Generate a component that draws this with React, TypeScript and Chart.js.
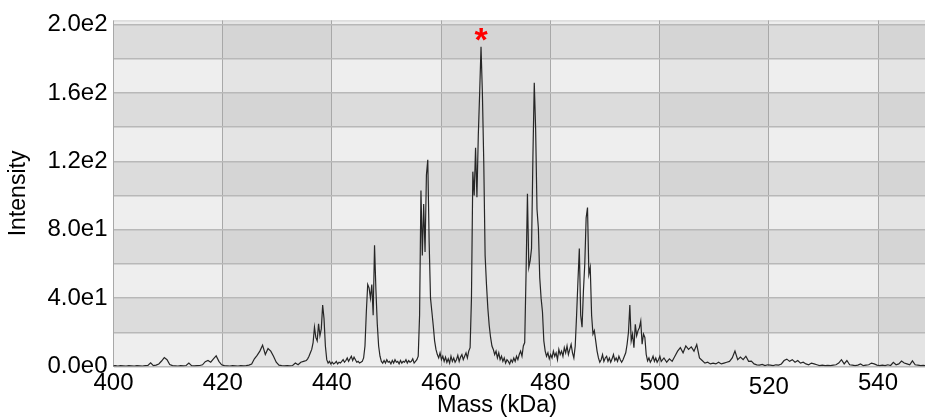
import React, { useEffect, useRef } from 'react';
import { Chart, registerables } from 'chart.js';

Chart.register(...registerables);

// ---- axis settings ----
const xMin = 400;
const xMax = 548.6;
const yMin = 0;
const yMax = 202.5;
const xTickValues = [400, 420, 440, 460, 480, 500, 520, 540];
const yGridValues = [0, 20, 40, 60, 80, 100, 120, 140, 160, 180, 200];
const yLabelValues = [0, 40, 80, 120, 160, 200];

// ---- spectrum (intensity) ----
// 399.8 – 434.8 kDa, every 0.5 kDa
const startA = 399.8;
const stepA = 0.5;
const intensityA = [
  0.4,
  0.5, 0.3, 0.5, 0.4, 0.3, 0.5, 0.4, 0.3, 0.5, 0.4,
  0.3, 0.5, 0.6, 2.2, 0.5, 0.8, 1.5, 3.2, 5.2, 4.0,
  1.2, 0.5, 0.4, 0.3, 0.5, 0.4, 0.6, 2.0, 0.5, 0.4,
  0.5, 0.6, 1.0, 2.8, 3.5, 2.5, 4.5, 6.2, 3.0, 1.0,
  0.5, 0.4, 0.3, 0.5, 0.4, 0.3, 0.5, 0.4, 0.5, 0.8,
  1.5, 4.5, 6.5, 9.0, 12.5, 7.0, 10.5, 9.0, 6.0, 2.5,
  0.8, 0.5, 0.4, 0.5, 0.4, 0.6, 2.0, 1.0, 2.5, 3.0,
];

// 435.30 – 500.05 kDa, every 0.25 kDa
const startB = 435.3;
const stepB = 0.25;
const intensityB = [
  3.5, 4.5, 6.0, 8.0, // 435
  10.0, 14.0, 23.0, 17.0, // 436
  15.0, 25.0, 18.0, 22.0, // 437
  36.0, 28.0, 12.0, 4.0, // 438
  2.0, 3.0, 1.5, 2.5, // 439
  1.5, 2.0, 3.0, 1.5, // 440
  2.5, 2.0, 3.0, 4.0, // 441
  2.5, 3.5, 5.0, 3.0, // 442
  4.5, 6.0, 3.5, 5.5, // 443
  4.0, 2.5, 3.0, 2.0, // 444
  2.5, 3.0, 5.0, 12.0, // 445
  32.0, 48.0, 46.0, 40.0, // 446
  48.0, 30.0, 71.0, 45.0, // 447
  25.0, 12.0, 6.0, 3.0, // 448
  2.0, 3.5, 2.0, 4.0, // 449
  2.5, 3.0, 1.5, 3.5, // 450
  2.0, 4.0, 2.5, 3.0, // 451
  1.5, 3.5, 2.0, 3.0, // 452
  2.5, 4.0, 2.0, 3.5, // 453
  2.5, 3.0, 4.5, 2.0, // 454
  3.0, 4.0, 6.0, 30.0, // 455
  103.0, 65.0, 95.0, 67.0, // 456
  112.0, 121.0, 73.0, 40.0, // 457
  32.0, 24.0, 15.0, 10.0, // 458
  7.0, 5.0, 8.0, 4.0, // 459
  6.0, 3.0, 5.5, 2.5, // 460
  4.5, 2.0, 6.0, 3.0, // 461
  5.0, 2.5, 4.0, 6.5, // 462
  3.0, 5.5, 7.0, 4.0, // 463
  6.0, 8.0, 5.0, 9.0, // 464
  11.0, 40.0, 114.0, 100.0, // 465
  128.0, 99.0, 135.0, 160.0, // 466
  187.0, 160.0, 120.0, 65.0, // 467
  48.0, 34.0, 24.0, 17.0, // 468
  12.0, 10.0, 7.0, 9.0, // 469
  5.0, 8.0, 4.0, 6.0, // 470
  3.0, 5.0, 2.0, 4.0, // 471
  3.0, 1.5, 4.0, 2.5, // 472
  5.0, 3.0, 6.0, 4.0, // 473
  7.0, 9.0, 6.0, 12.0, // 474
  14.0, 55.0, 101.0, 58.0, // 475
  62.0, 69.0, 122.0, 166.0, // 476
  139.0, 92.0, 81.0, 52.0, // 477
  40.0, 32.0, 15.0, 9.0, // 478
  6.0, 8.0, 4.5, 7.0, // 479
  5.0, 9.0, 6.0, 8.0, // 480
  4.0, 10.0, 7.0, 9.0, // 481
  6.0, 11.0, 8.0, 12.0, // 482
  7.0, 10.0, 13.0, 8.0, // 483
  5.0, 12.0, 30.0, 50.0, // 484
  69.0, 30.0, 23.0, 44.0, // 485
  60.0, 87.0, 93.0, 54.0, // 486
  58.0, 30.0, 19.0, 21.0, // 487
  15.0, 9.0, 5.0, 2.5, // 488
  4.0, 7.0, 3.0, 5.0, // 489
  6.0, 3.0, 5.0, 2.5, // 490
  4.5, 7.0, 3.5, 5.0, // 491
  3.0, 6.0, 4.0, 2.5, // 492
  4.0, 6.0, 8.0, 13.0, // 493
  20.0, 36.0, 15.0, 19.0, // 494
  11.0, 24.7, 18.0, 21.0, // 495
  22.7, 26.6, 13.0, 19.0, // 496
  17.0, 7.0, 3.3, 5.0, // 497
  2.5, 4.0, 6.0, 3.0, // 498
  5.0, 2.5, 4.0, 6.0, // 499
];

// 500.3 – 548.8 kDa, every 0.5 kDa
const startC = 500.3;
const stepC = 0.5;
const intensityC = [
  3.0, 5.0, 2.5, 4.5, 3.0, 6.0, 9.0, 11.0, 8.0, 12.0,
  10.0, 11.5, 9.0, 12.8, 5.0, 3.5, 2.0, 2.5, 1.5, 2.0,
  1.5, 2.5, 1.5, 2.0, 2.5, 3.0, 5.0, 9.0, 4.0, 5.5,
  4.0, 6.0, 3.0, 3.2, 1.5, 1.0, 0.8, 1.2, 0.5, 1.0,
  0.8, 0.5, 1.0, 0.8, 1.5, 3.5, 4.3, 3.0, 4.0, 2.5,
  3.5, 2.0, 2.5, 1.5, 1.0, 2.0, 1.5, 1.0, 0.5, 0.8,
  0.5, 0.6, 0.5, 0.8, 1.0, 2.0, 4.0, 1.5, 3.5, 1.0,
  0.8, 0.5, 0.8, 1.5, 0.5, 0.8, 1.0, 2.0, 1.5, 0.8,
  0.5, 0.8, 0.5, 1.0, 0.6, 2.4, 1.0, 1.5, 3.2, 2.0,
  1.5, 1.0, 3.3, 1.0, 0.8, 0.5, 0.6, 0.5,
];

// marked peak
const markedMass = 467.3;
const markedLabel = '*';

const FONT = '"Liberation Sans", Arial, Helvetica, sans-serif';

const segments = [
  { start: startA, step: stepA, values: intensityA },
  { start: startB, step: stepB, values: intensityB },
  { start: startC, step: stepC, values: intensityC },
];

const points = segments.flatMap((s) =>
  s.values.map((v, i) => ({ x: +(s.start + i * s.step).toFixed(3), y: v }))
);

const fmtExp = (v: number) => v.toExponential(1).replace('e+', 'e');

const bandColors = {
  lightLight: '#eeeeee',
  lightDark: '#dcdcdc',
  darkLight: '#e4e4e4',
  darkDark: '#d5d5d5',
};

const backgroundPlugin = {
  id: 'bands',
  beforeDraw(chart: any) {
    const { ctx, chartArea, scales } = chart;
    const xs = scales.x;
    const ys = scales.y;
    const xEdges = [xMin, ...xTickValues.filter((v) => v > xMin && v < xMax), xMax];
    const yEdges = [yMin, ...yGridValues.filter((v) => v > yMin && v < yMax), yMax];
    ctx.save();
    for (let i = 0; i < xEdges.length - 1; i++) {
      const colDark = Math.floor((xEdges[i] - xTickValues[0]) / 20) % 2 === 1;
      const x0 = xs.getPixelForValue(xEdges[i]);
      const x1 = xs.getPixelForValue(xEdges[i + 1]);
      for (let j = 0; j < yEdges.length - 1; j++) {
        const rowDark = Math.floor((yEdges[j] - yMin) / 20) % 2 === 1;
        const y0 = ys.getPixelForValue(yEdges[j]);
        const y1 = ys.getPixelForValue(yEdges[j + 1]);
        ctx.fillStyle = colDark
          ? rowDark
            ? bandColors.darkDark
            : bandColors.darkLight
          : rowDark
          ? bandColors.lightDark
          : bandColors.lightLight;
        ctx.fillRect(x0, y1, x1 - x0, y0 - y1);
      }
    }
    ctx.fillStyle = '#d0d0d0';
    ctx.fillRect(chartArea.left, chartArea.top, chartArea.right - chartArea.left, 1);
    ctx.restore();
  },
  afterDraw(chart: any) {
    const { ctx, scales } = chart;
    const xs = scales.x;
    const ys = scales.y;
    ctx.save();
    ctx.fillStyle = '#000';
    ctx.font = `24px ${FONT}`;
    ctx.textAlign = 'center';
    ctx.textBaseline = 'alphabetic';
    xTickValues.forEach((v) => {
      const drop = v === 520 ? 4 : 0;
      ctx.fillText(String(v), xs.getPixelForValue(v), 390 + drop);
    });
    ctx.font = `23.5px ${FONT}`;
    ctx.fillText('Mass (kDa)', 497, 411.5);
    const peak = Math.max(...points.filter((p) => Math.abs(p.x - markedMass) < 0.5).map((p) => p.y));
    ctx.font = `bold 34px ${FONT}`;
    ctx.fillStyle = '#ff0000';
    const m = ctx.measureText(markedLabel);
    const cx = xs.getPixelForValue(markedMass);
    const cy = ys.getPixelForValue(peak) - 12;
    const a = m.actualBoundingBoxAscent;
    const d = m.actualBoundingBoxDescent;
    ctx.fillText(markedLabel, cx, cy + (a - d) / 2);
    ctx.restore();
  },
};

export default function App() {
  const ref = useRef<HTMLCanvasElement>(null);

  useEffect(() => {
    document.body.style.margin = '0';
    const canvas = ref.current!;
    const chart = new Chart(canvas, {
      type: 'line',
      data: {
        datasets: [
          {
            data: points,
            borderColor: '#262626',
            borderWidth: 1.2,
            pointRadius: 0,
            tension: 0,
            fill: false,
          },
        ],
      },
      options: {
        responsive: false,
        animation: false,
        layout: { padding: { top: 19, right: 0, left: 0, bottom: 0 } },
        plugins: {
          legend: { display: false },
          tooltip: { enabled: false },
        },
        scales: {
          x: {
            type: 'linear',
            min: xMin,
            max: xMax,
            afterBuildTicks: (scale: any) => {
              scale.ticks = xTickValues.map((v) => ({ value: v }));
            },
            afterFit: (scale: any) => {
              scale.height = 50.5;
            },
            ticks: { display: false },
            grid: { color: '#a8a8a8', lineWidth: 1, drawTicks: false },
            border: { display: false },
          },
          y: {
            type: 'linear',
            min: yMin,
            max: yMax,
            afterBuildTicks: (scale: any) => {
              scale.ticks = yGridValues.map((v) => ({ value: v }));
            },
            afterFit: (scale: any) => {
              scale.width = 113.5;
            },
            ticks: {
              color: '#000',
              padding: 6,
              font: { family: FONT, size: 24 },
              callback: (v: any) => (yLabelValues.includes(Number(v)) ? fmtExp(Number(v)) : ''),
            },
            grid: { color: '#b8b8b8', lineWidth: 1.5, drawTicks: false },
            border: { display: false },
            title: {
              display: true,
              text: 'Intensity',
              color: '#000',
              font: { family: FONT, size: 23 },
              padding: { top: 5, bottom: 0 },
            },
          },
        },
      },
      plugins: [backgroundPlugin],
    });
    return () => chart.destroy();
  }, []);

  return <canvas ref={ref} width={925} height={417} style={{ display: 'block' }} />;
}
